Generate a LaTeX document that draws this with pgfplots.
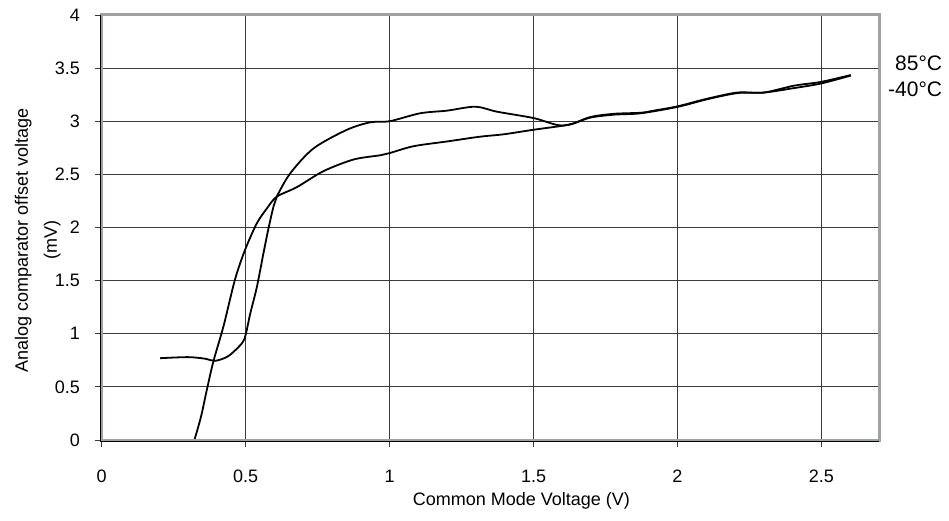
\documentclass[border=0pt]{standalone}
\usepackage{fontspec}
\setmainfont{Liberation Sans}
\usepackage{pgfplots}
\pgfplotsset{compat=1.18}
\definecolor{framec}{HTML}{9EA2A6}
\definecolor{gridc}{HTML}{3A3A3A}
\begin{document}
\begin{tikzpicture}
\begin{axis}[
  scale only axis, width=777.3pt, height=425pt,
  at={(0pt,0pt)}, anchor=south west,
  xmin=0, xmax=2.7, ymin=0, ymax=4,
  xtick={0,0.5,1,1.5,2,2.5}, ytick={0,0.5,1,1.5,2,2.5,3,3.5,4},
  xticklabels={0,0.5,1,1.5,2,2.5},
  yticklabels={0,0.5,1,1.5,2,2.5,3,3.5,4},
  grid=major, major grid style={gridc, line width=0.9pt},
  axis line style={draw=none},
  tick align=outside, major tick length=7pt,
  tick style={gridc, line width=0.9pt},
  xtick pos=bottom, ytick pos=left,
  clip=false,
  ticklabel style={font=\fontsize{18}{21}\selectfont},
  xticklabel style={anchor=base, inner sep=0pt, yshift=-35pt},
  yticklabel style={anchor=east, inner sep=0pt, xshift=-14.7pt},
  every axis x label/.style={at={(axis description cs:0.540,-0.153)}, anchor=base, font=\fontsize{18}{21}\selectfont},
  every axis y label/.style={at={(axis description cs:-0.0824,0.47)}, anchor=center, rotate=90, align=center, font=\fontsize{18}{29}\selectfont},
  xlabel={Common Mode Voltage (V)},
  ylabel={Analog comparator offset voltage\\(mV)},
]
% curve with flat start (~0.77)
\addplot[black, line width=1.8pt, smooth, tension=0.5] coordinates {
(0.203,0.77) (0.30,0.78) (0.36,0.765) (0.394,0.745) (0.44,0.79) (0.487,0.91) (0.50,0.99)
(0.516,1.19) (0.539,1.44) (0.562,1.76) (0.58,2.0) (0.597,2.2) (0.608,2.29) (0.655,2.51)
(0.736,2.745) (0.852,2.92) (0.933,2.99) (1.0,3.0) (1.106,3.075) (1.2,3.1) (1.298,3.137)
(1.373,3.09) (1.5,3.03) (1.582,2.965) (1.628,2.97) (1.698,3.04) (1.779,3.07) (1.872,3.08)
(1.918,3.10) (2.0,3.14) (2.1,3.21) (2.208,3.27) (2.30,3.27) (2.405,3.335) (2.498,3.37) (2.602,3.435)
};
% curve starting at zero
\addplot[black, line width=1.8pt, smooth, tension=0.5] coordinates {
(0.322,0) (0.345,0.22) (0.365,0.47) (0.388,0.74) (0.423,1.07) (0.463,1.51) (0.498,1.79)
(0.539,2.04) (0.574,2.18) (0.608,2.29) (0.678,2.38) (0.77,2.53) (0.875,2.64) (0.968,2.68)
(1.0,2.70) (1.083,2.765) (1.2,2.81) (1.315,2.855) (1.396,2.877) (1.5,2.92) (1.594,2.955)
(1.64,2.98) (1.698,3.035) (1.779,3.062) (1.872,3.075) (2.0,3.135) (2.1,3.205) (2.208,3.265)
(2.30,3.27) (2.4,3.31) (2.498,3.355) (2.602,3.43)
};
\draw[framec, line width=3pt] (rel axis cs:0,0) rectangle (rel axis cs:1,1);
\draw[black, line width=1pt] ([xshift=-1pt]rel axis cs:0,1) -- ([xshift=-1pt,yshift=-1pt]rel axis cs:0,0) -- ([yshift=-1pt]rel axis cs:1,0);
\node[anchor=base east, inner sep=0pt, font=\fontsize{21}{25}\selectfont] at (rel axis cs:1.0815,0.8694) {85°C};
\node[anchor=base east, inner sep=0pt, font=\fontsize{21}{25}\selectfont] at (rel axis cs:1.0815,0.8094) {-40°C};
\end{axis}
\pgfresetboundingbox
\path[use as bounding box] (-101.7pt,-80pt) rectangle (847.3pt,440pt);
\end{tikzpicture}
\end{document}
